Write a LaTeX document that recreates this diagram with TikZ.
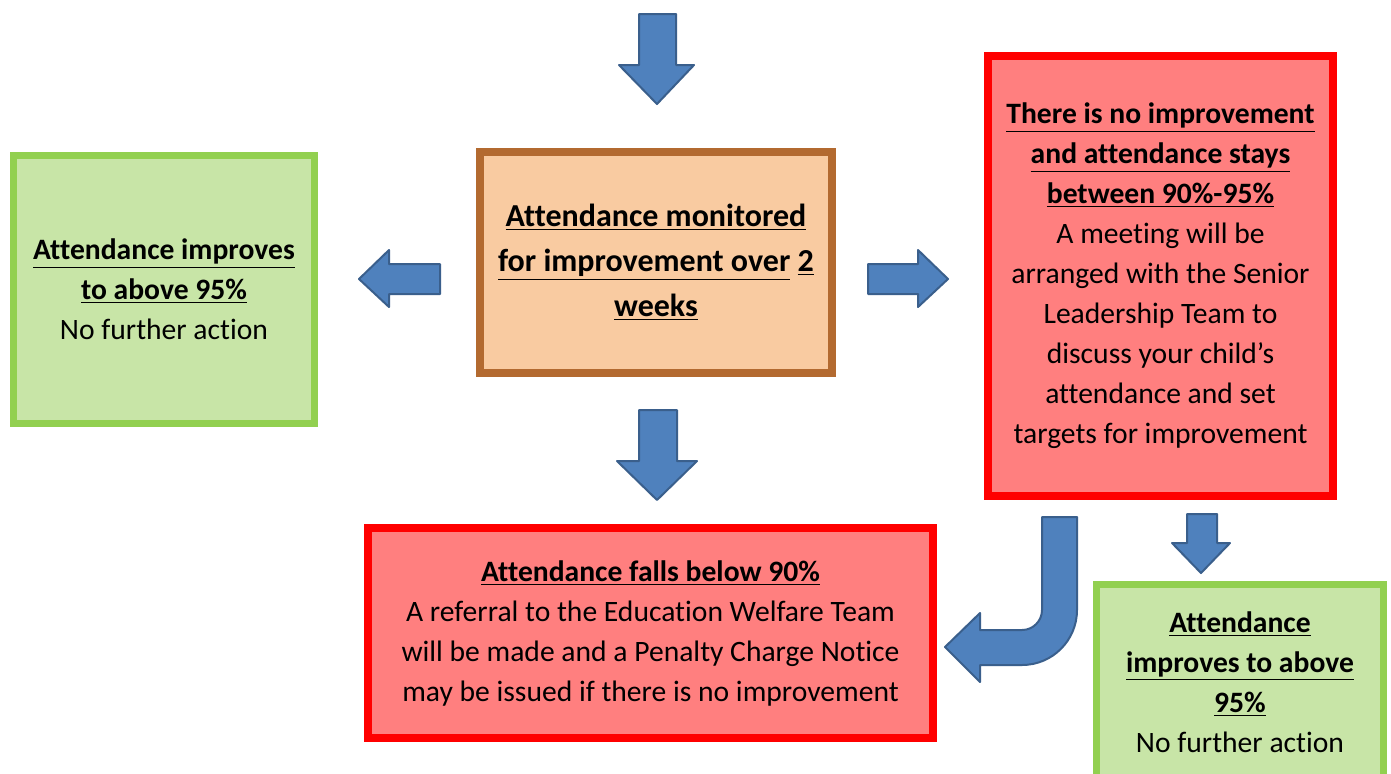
\documentclass[tikz,border=0pt]{standalone}
\usepackage{fontspec}
\setmainfont{Carlito}[Ligatures=NoCommon]
\usepackage{tikz}

\definecolor{arrowblue}{HTML}{4F81BD}
\definecolor{arrowedge}{HTML}{3A5F8C}
\definecolor{boxbrown}{HTML}{B36A30}
\definecolor{fillorange}{HTML}{F9CBA1}
\definecolor{boxgreen}{HTML}{92D050}
\definecolor{fillgreen}{HTML}{C8E5A7}
\definecolor{fillred}{HTML}{FF7F7F}

\newcommand{\hdr}[1]{\underline{\textbf{#1}}}

\tikzset{
  flowbox/.style={draw, line width=4pt, align=center, inner sep=0pt, font=\fontsize{14.8}{20}\selectfont},
  greenbox/.style={flowbox, draw=boxgreen, fill=fillgreen, line width=3.5pt},
  redbox/.style={flowbox, draw=red, fill=fillred},
  blockarrow/.style={fill=arrowblue, draw=arrowedge, line width=1pt, line join=round}
}

\begin{document}
\begin{tikzpicture}[x=0.5pt, y=-0.5pt]
    \clip (0,0) rectangle (1391,773);
    \fill[white] (0,0) rectangle (1391,773);

    % boxes
    \node[flowbox, draw=boxbrown, fill=fillorange, minimum width=176pt, minimum height=110.5pt,
          font=\fontsize{16}{22.5}\selectfont] (monitor) at (656,262.5)
        {\hdr{Attendance monitored}\\ \hdr{for improvement over} \hdr{2}\\ \hdr{weeks}};
    \node[greenbox, minimum width=150.5pt, minimum height=134pt] (improveleft) at (164,289.5)
        {\hdr{Attendance improves}\\ \hdr{to above 95\%}\\ No further action};
    \node[redbox, minimum width=172.5pt, minimum height=220pt] (noimprove) at (1160.5,276)
        {\hdr{There is no improvement}\\ \hdr{and attendance stays}\\ \hdr{between 90\%-95\%}\\
         A meeting will be\\ arranged with the Senior\\ Leadership Team to\\ discuss your child’s\\
         attendance and set\\ targets for improvement};
    \node[redbox, minimum width=282.5pt, minimum height=105pt] (fallsbelow) at (650.5,633)
        {\hdr{Attendance falls below 90\%}\\ A referral to the Education Welfare Team\\
         will be made and a Penalty Charge Notice\\ may be issued if there is no improvement};
    \node[greenbox, minimum width=143.5pt, minimum height=97.5pt] (improveright) at (1240,682)
        {\hdr{Attendance}\\ \hdr{improves to above}\\ \hdr{95\%}\\ No further action};

    % block arrows
    \draw[blockarrow] (639,14) -- (676,14) -- (676,65) -- (694,65) -- (657,104) -- (619,65) -- (639,65) -- cycle;
    \draw[blockarrow] (440,264) -- (389,264) -- (389,250) -- (359,279) -- (389,307) -- (389,294) -- (440,294) -- cycle;
    \draw[blockarrow] (868,264) -- (918,264) -- (918,250) -- (948,279) -- (918,307) -- (918,294) -- (868,294) -- cycle;
    \draw[blockarrow] (639,410) -- (677,410) -- (677,461) -- (697,461) -- (657,500) -- (617,461) -- (639,461) -- cycle;
    \draw[blockarrow] (1187,514) -- (1217,514) -- (1217,543) -- (1230,543) -- (1201,573) -- (1172,543) -- (1187,543) -- cycle;
    \draw[blockarrow] (1042,517) -- (1077,517) -- (1077,610) arc[start angle=0, end angle=90, radius=55]
        -- (980,665) -- (980,682) -- (945,647) -- (980,613) -- (980,630) -- (1022,630)
        arc[start angle=90, end angle=0, radius=20] -- cycle;
\end{tikzpicture}
\end{document}
